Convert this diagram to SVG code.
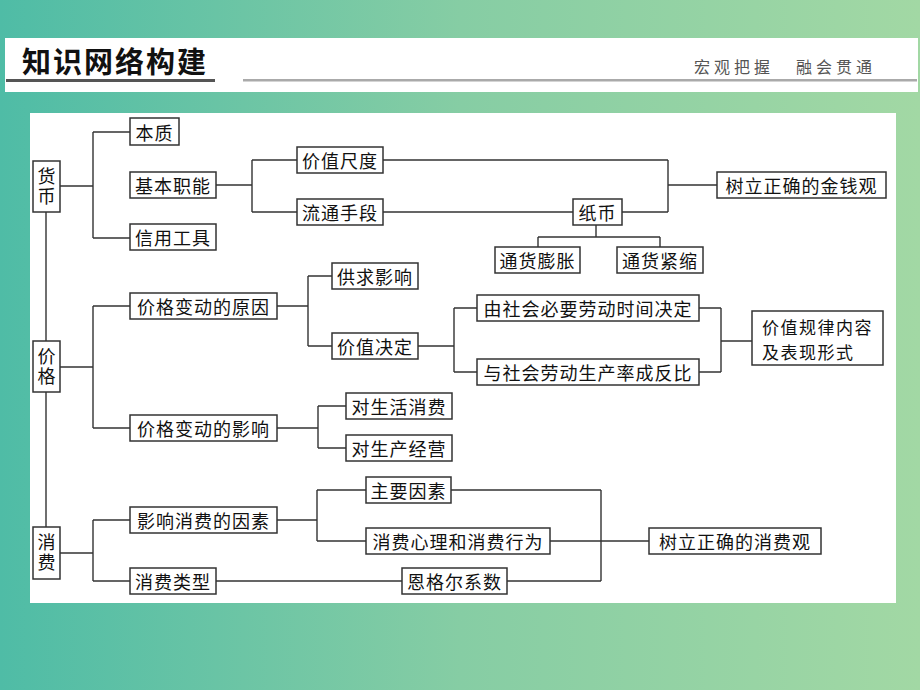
<svg xmlns="http://www.w3.org/2000/svg" width="920" height="690" viewBox="0 0 920 690">
<defs>
<linearGradient id="bg" x1="0" y1="0" x2="1" y2="0">
<stop offset="0" stop-color="#4fbca6"/>
<stop offset="0.5" stop-color="#86cda4"/>
<stop offset="1" stop-color="#a2d8a4"/>
</linearGradient>
<style>
.box{fill:#fff;stroke:#333;stroke-width:1.5}
.t{font-family:"Noto Sans CJK SC","Noto Sans CJK TC",sans-serif;font-size:18px;fill:#111;text-anchor:middle;dominant-baseline:central;letter-spacing:1px}
.tl{text-anchor:start;font-size:17px;letter-spacing:1.5px}
.v{writing-mode:vertical-rl;letter-spacing:2px}
.c{fill:none;stroke:#333;stroke-width:1.4}
</style>
</defs>
<rect width="920" height="690" fill="url(#bg)"/>
<rect x="5" y="38" width="913" height="54" fill="#fff"/>
<text x="22" y="73" font-family="'Noto Sans CJK SC',sans-serif" font-size="29" font-weight="bold" letter-spacing="2" fill="#111">知识网络构建</text>
<rect x="6" y="79" width="209" height="3" fill="#555"/>
<rect x="243" y="79" width="674" height="2.5" fill="#aaa"/>
<text x="694" y="73" font-family="'Noto Sans CJK SC',sans-serif" font-size="16" letter-spacing="4" fill="#555">宏观把握</text>
<text x="796" y="73" font-family="'Noto Sans CJK SC',sans-serif" font-size="16" letter-spacing="4" fill="#555">融会贯通</text>
<rect x="30" y="113" width="866" height="490" fill="#fff"/>
<g id="connectors">
<path class="c" d="M46 212V341M46 392V527"/>
<path class="c" d="M60 186H93M93 132V238M93 132H130M93 238H130"/>
<path class="c" d="M216 185H252M252 160V212M252 160H297M252 212H297"/>
<path class="c" d="M383 160H668M383 212H573M622 212H668M668 160V212M668 185H717"/>
<path class="c" d="M596 225V237M538 237H660M538 237V247M660 237V247"/>
<path class="c" d="M60 367H93M93 306V428M93 306H130M93 428H130"/>
<path class="c" d="M277 306H308M308 276V346M308 276H332M308 346H332"/>
<path class="c" d="M418 346H454M454 308V372M454 308H477M454 372H477"/>
<path class="c" d="M699 308H721M699 372H721M721 308V372M721 341H752"/>
<path class="c" d="M277 428H318M318 406V448M318 406H346M318 448H346"/>
<path class="c" d="M60 553H93M93 520V581M93 520H130M93 581H130"/>
<path class="c" d="M277 520H317M317 490V541M317 490H366M317 541H366"/>
<path class="c" d="M216 581H402M451 490H601M507 581H601M601 490V581M550 541H649"/>
</g>
<g id="huobi"><rect class="box" x="33" y="161" width="27" height="51"/><text class="t v" x="46.5" y="187">货币</text></g>
<g id="benzhi"><rect class="box" x="130" y="118" width="49" height="27"/><text class="t" x="154.5" y="131.5">本质</text></g>
<g id="jibenzhineng"><rect class="box" x="130" y="172" width="86" height="26"/><text class="t" x="173" y="185">基本职能</text></g>
<g id="xinyonggongju"><rect class="box" x="130" y="224" width="86" height="26"/><text class="t" x="173" y="237">信用工具</text></g>
<g id="jiazhichidu"><rect class="box" x="297" y="147" width="86" height="26"/><text class="t" x="340" y="160">价值尺度</text></g>
<g id="liutongshouduan"><rect class="box" x="297" y="199" width="86" height="26"/><text class="t" x="340" y="212">流通手段</text></g>
<g id="zhibi"><rect class="box" x="573" y="199" width="49" height="26"/><text class="t" x="597.5" y="212">纸币</text></g>
<g id="tonghuopengzhang"><rect class="box" x="495" y="247" width="85" height="26"/><text class="t" x="537.5" y="260">通货膨胀</text></g>
<g id="tonghuojinsuo"><rect class="box" x="617" y="247" width="86" height="26"/><text class="t" x="660" y="260">通货紧缩</text></g>
<g id="jinqianguan"><rect class="box" x="717" y="172" width="169" height="26"/><text class="t" x="801.5" y="185">树立正确的金钱观</text></g>
<g id="jiage"><rect class="box" x="33" y="341" width="27" height="51"/><text class="t v" x="46.5" y="367">价格</text></g>
<g id="yuanyin"><rect class="box" x="130" y="293" width="147" height="26"/><text class="t" x="203.5" y="306">价格变动的原因</text></g>
<g id="yingxiang"><rect class="box" x="130" y="415" width="147" height="26"/><text class="t" x="203.5" y="428">价格变动的影响</text></g>
<g id="gongqiu"><rect class="box" x="332" y="263" width="86" height="26"/><text class="t" x="375" y="276">供求影响</text></g>
<g id="jiazhijueding"><rect class="box" x="332" y="333" width="86" height="26"/><text class="t" x="375" y="346">价值决定</text></g>
<g id="bixuyao"><rect class="box" x="477" y="295" width="222" height="26"/><text class="t" x="588" y="308">由社会必要劳动时间决定</text></g>
<g id="fanbi"><rect class="box" x="477" y="359" width="222" height="26"/><text class="t" x="588" y="372">与社会劳动生产率成反比</text></g>
<g id="guilv"><rect class="box" x="752" y="311" width="131" height="54"/><text class="t tl" x="762" y="326">价值规律内容</text><text class="t tl" x="762" y="351">及表现形式</text></g>
<g id="shenghuo"><rect class="box" x="346" y="393" width="106" height="26"/><text class="t" x="399" y="406">对生活消费</text></g>
<g id="shengchan"><rect class="box" x="346" y="435" width="106" height="26"/><text class="t" x="399" y="448">对生产经营</text></g>
<g id="xiaofei"><rect class="box" x="33" y="527" width="27" height="52"/><text class="t v" x="46.5" y="553">消费</text></g>
<g id="yinsu"><rect class="box" x="130" y="507" width="147" height="26"/><text class="t" x="203.5" y="520">影响消费的因素</text></g>
<g id="leixing"><rect class="box" x="130" y="568" width="86" height="26"/><text class="t" x="173" y="581">消费类型</text></g>
<g id="zhuyao"><rect class="box" x="366" y="477" width="85" height="26"/><text class="t" x="408.5" y="490">主要因素</text></g>
<g id="xinli"><rect class="box" x="366" y="528" width="184" height="26"/><text class="t" x="458" y="541">消费心理和消费行为</text></g>
<g id="engeer"><rect class="box" x="402" y="568" width="105" height="26"/><text class="t" x="454.5" y="581">恩格尔系数</text></g>
<g id="xiaofeiguan"><rect class="box" x="649" y="528" width="172" height="26"/><text class="t" x="735" y="541">树立正确的消费观</text></g>
</svg>
